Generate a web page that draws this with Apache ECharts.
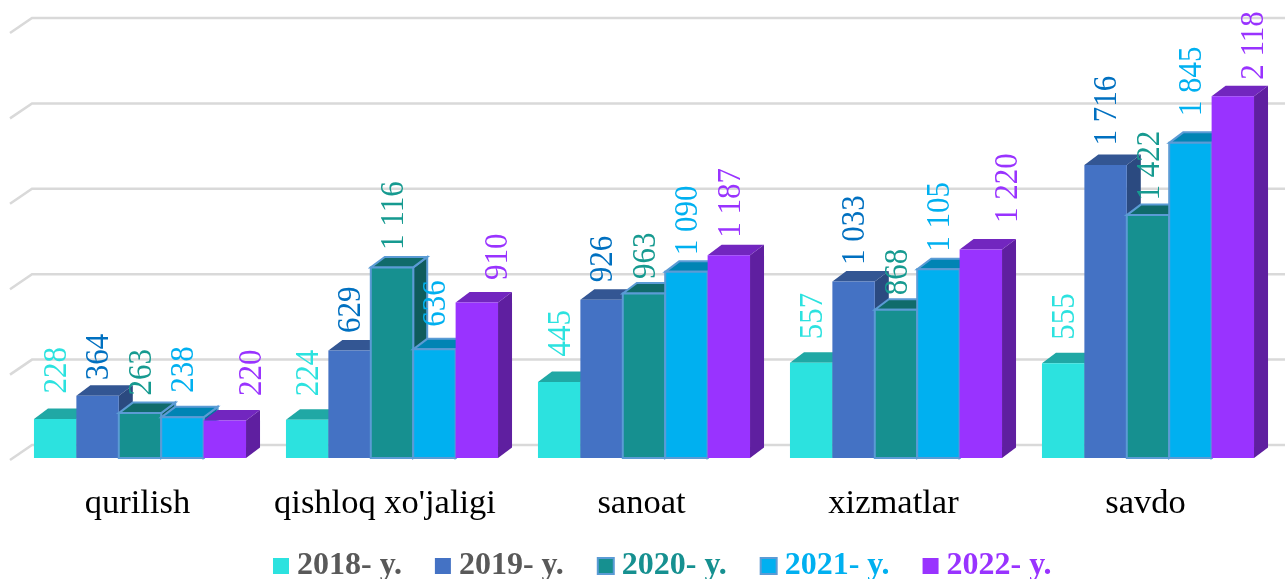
<!DOCTYPE html>
<html>
<head>
<meta charset="utf-8">
<style>
  html, body { margin: 0; padding: 0; background: #fff; }
  #chart { width: 1285px; height: 579px; }
</style>
<script src="https://cdn.jsdelivr.net/npm/echarts@6/dist/echarts.min.js"></script>
</head>
<body>
<div id="chart"></div>
<script>
const categories = ["qurilish", "qishloq xo'jaligi", "sanoat", "xizmatlar", "savdo"];
const years = ["2018- y.", "2019- y.", "2020- y.", "2021- y.", "2022- y."];
const yTicks = [0, 500, 1000, 1500, 2000, 2500];

const values2018 = [228, 224, 445, 557, 555];
const values2019 = [364, 629, 926, 1033, 1716];
const values2020 = [263, 1116, 963, 868, 1422];
const values2021 = [238, 636, 1090, 1105, 1845];
const values2022 = [220, 910, 1187, 1220, 2118];
const allValues = [values2018, values2019, values2020, values2021, values2022];

// colours per year: front, top, side, label
const front = ["#2ce2df", "#4472c4", "#169090", "#00b0f0", "#9933ff"];
const topFace = ["#20a8a5", "#335693", "#106b6b", "#0084b4", "#7226bf"];
const sideFace = ["#1c9896", "#2b4a80", "#0f5c5c", "#00759f", "#5f1fa0"];
const labelColor = ["#2ce2df", "#0070c0", "#169a90", "#00b0f0", "#9933ff"];
const legendColor = ["#595959", "#595959", "#169090", "#00b0f0", "#9933ff"];
const outlined = [false, false, true, true, false];

// hand placed data labels, same as the source chart
const labelGap = [
  [15, 13, 15, 13, 13],
  [5, 7, 7, 6, 9],
  [7, 7, 4, 4, 4],
  [14, 12, 6, 7, 16],
  [14, 12, 7, 16, 6],
];
const labelShift = [
  [0, 0, 0, 0, 0],
  [0, 0, 0, 0, 0],
  [0, 0, 0, 0, 0],
  [0, 0, 0, 0, 0],
  [25, 19, 0, 25, 19],
];

const depthX = 14;
const depthY = 10.5;
const serif = '"Liberation Serif", "Times New Roman", serif';

const barWidth = (api) => api.size([1, 0])[0] * 0.1683;

const renderBar = (yearIdx) => (params, api) => {
  const catIdx = api.value(0);
  const w = barWidth(api);
  const topPt = api.coord([catIdx, api.value(1)]);
  const basePt = api.coord([catIdx, 0]);
  const x0 = topPt[0] + (yearIdx - 2.5) * w;
  const x1 = x0 + w;
  const y0 = topPt[1];
  const y1 = basePt[1];
  const line = outlined[yearIdx]
    ? { stroke: "#5b9bd5", lineWidth: 2 }
    : { stroke: "none", lineWidth: 0 };
  return {
    type: "group",
    children: [
      {
        type: "polygon",
        shape: { points: [[x1, y0], [x1 + depthX, y0 - depthY], [x1 + depthX, y1 - depthY], [x1, y1]] },
        style: { fill: sideFace[yearIdx], ...line },
      },
      {
        type: "polygon",
        shape: { points: [[x0, y0], [x0 + depthX, y0 - depthY], [x1 + depthX, y0 - depthY], [x1, y0]] },
        style: { fill: topFace[yearIdx], ...line },
      },
      {
        type: "rect",
        shape: { x: x0, y: y0, width: w, height: y1 - y0 },
        style: { fill: front[yearIdx], ...line },
      },
    ],
  };
};

const renderLabel = (params, api) => {
  const catIdx = api.value(0);
  const yearIdx = api.value(1);
  const value = api.value(2);
  const w = barWidth(api);
  const pt = api.coord([catIdx, value]);
  return {
    type: "text",
    x: pt[0] + (yearIdx - 2) * w + labelShift[yearIdx][catIdx] + 2,
    y: pt[1] - depthY - labelGap[yearIdx][catIdx],
    rotation: Math.PI / 2,
    scaleY: 1.08,
    style: {
      text: String(value).replace(/\B(?=(\d{3})+$)/g, " "),
      fill: labelColor[yearIdx],
      font: "31px " + serif,
      align: "left",
      verticalAlign: "middle",
    },
  };
};

// back wall lines with the short slanted stub on the left
const renderWall = (params, api) => {
  const pt = api.coord([0, api.value(0)]);
  const startX = params.coordSys.x - 4;
  const y = pt[1];
  return {
    type: "polyline",
    shape: { points: [[startX, y + 2], [startX + 22, y - 13], [1285, y - 13]] },
    style: { stroke: "#d9d9d9", lineWidth: 2.5, fill: "none" },
  };
};

const labelRows = [];
allValues.forEach((vals, y) => vals.forEach((v, c) => labelRows.push([c, y, v])));

const series = [
  {
    type: "custom",
    name: "wall",
    renderItem: renderWall,
    data: yTicks.map((t) => [t]),
    encode: { y: 0 },
    clip: false,
    silent: true,
    z: 1,
  },
  ...years.map((name, i) => ({
    type: "custom",
    name,
    renderItem: renderBar(i),
    data: allValues[i].map((v, c) => [c, v]),
    encode: { x: 0, y: 1 },
    itemStyle: { color: front[i] },
    clip: false,
    z: 2 + i,
  })),
  {
    type: "custom",
    name: "labels",
    renderItem: renderLabel,
    data: labelRows,
    encode: { x: 0, y: 2 },
    clip: false,
    silent: true,
    z: 10,
  },
];

const catFont = { color: "#000", fontFamily: serif, fontSize: 34.5 };

const chart = echarts.init(document.getElementById("chart"), null, { renderer: "canvas" });
chart.setOption({
  animation: false,
  backgroundColor: "#fff",
  grid: { left: 14, right: 11, top: 31, bottom: 121 },
  xAxis: {
    type: "category",
    data: categories,
    axisLine: { show: false },
    axisTick: { show: false },
    axisLabel: {
      ...catFont,
      margin: 28,
      interval: 0,
      // the long label sits further left than the others
      formatter: (name, idx) => (idx === 1 ? "{wide|" + name + "}" : "{std|" + name + "}"),
      rich: {
        std: { ...catFont, padding: [0, 5, 0, 0] },
        wide: { ...catFont, padding: [0, 14, 0, 0] },
      },
    },
  },
  yAxis: { type: "value", min: 0, max: 2500, interval: 500, show: false },
  legend: {
    left: 273,
    top: 550,
    padding: 0,
    itemWidth: 16,
    itemHeight: 16,
    itemGap: 33,
    selectedMode: false,
    data: years.map((name, i) => ({
      name,
      icon: "rect",
      itemStyle: outlined[i]
        ? { color: front[i], borderColor: "#5b9bd5", borderWidth: 2 }
        : { color: front[i] },
      textStyle: { color: legendColor[i], fontFamily: serif, fontSize: 32, fontWeight: "bold", padding: [0, 0, 0, 3] },
    })),
  },
  series,
});
</script>
</body>
</html>
